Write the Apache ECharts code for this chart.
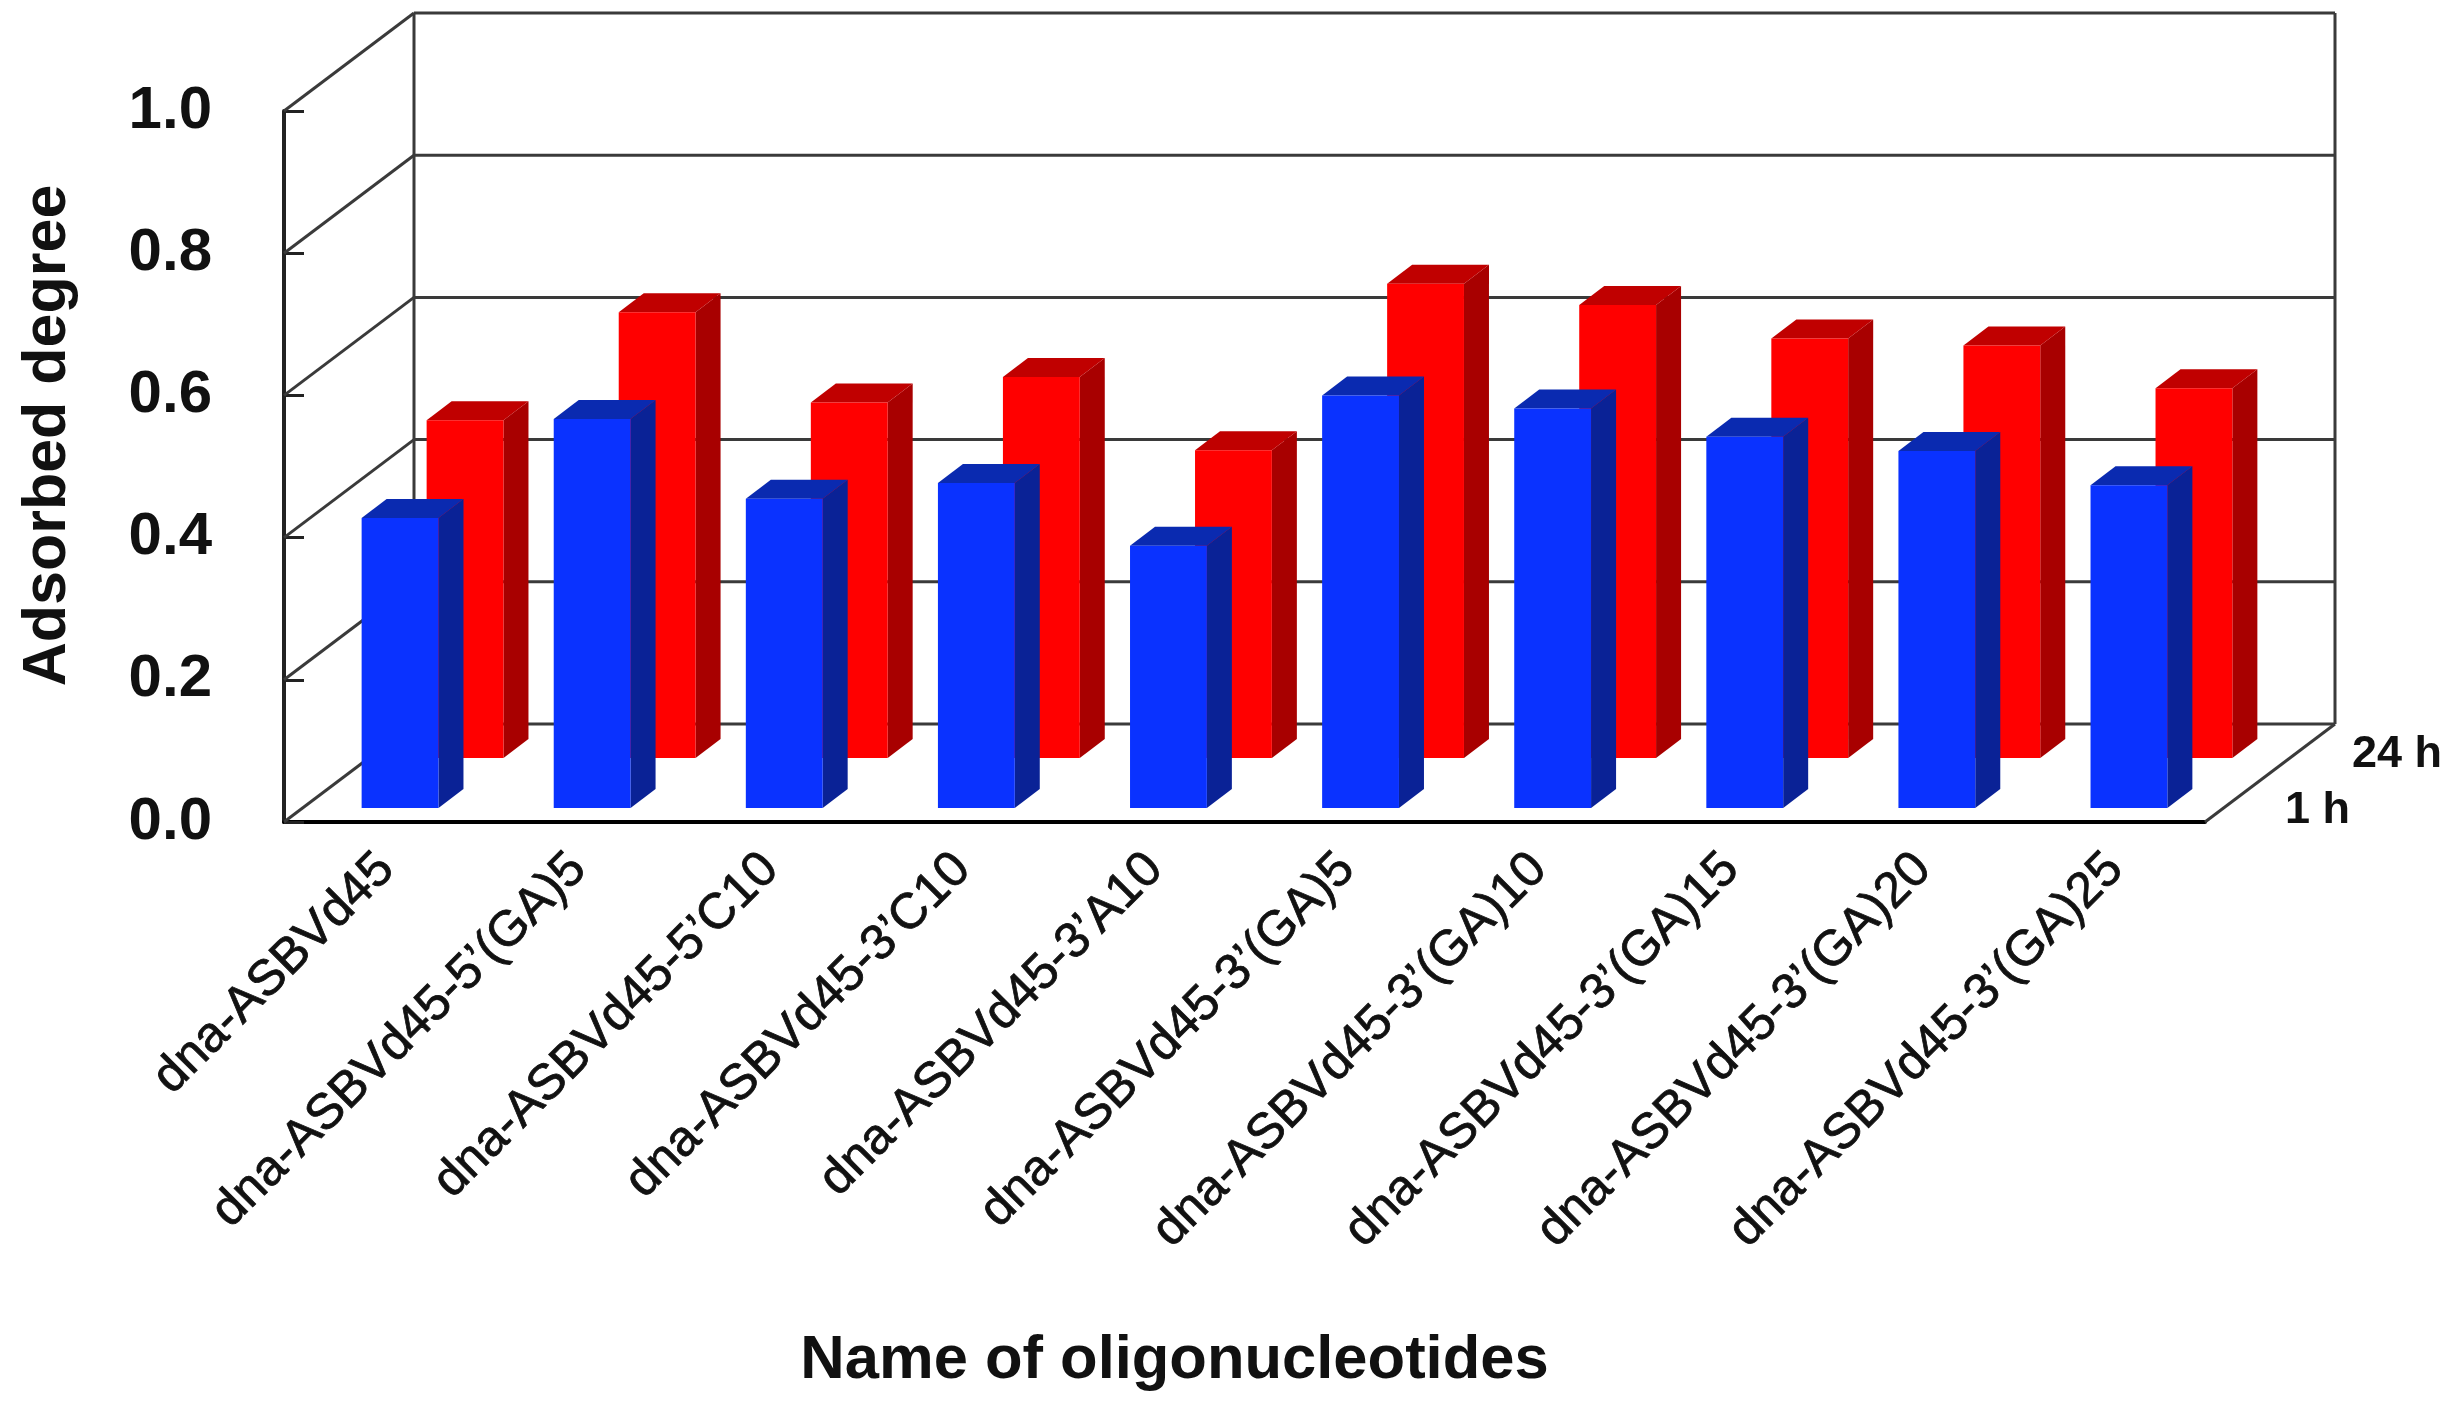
<!DOCTYPE html>
<html><head><meta charset="utf-8">
<style>html,body{margin:0;padding:0;background:#fff}#c{width:2457px;height:1404px}</style>
<script src="https://cdn.jsdelivr.net/npm/echarts@6/dist/echarts.min.js"></script>
</head><body><div id="c"></div>
<script>
const categories = ["dna-ASBVd45","dna-ASBVd45-5’(GA)5","dna-ASBVd45-5’C10","dna-ASBVd45-3’C10","dna-ASBVd45-3’A10","dna-ASBVd45-3’(GA)5","dna-ASBVd45-3’(GA)10","dna-ASBVd45-3’(GA)15","dna-ASBVd45-3’(GA)20","dna-ASBVd45-3’(GA)25"];
const values1h  = [0.408,0.547,0.435,0.457,0.369,0.58,0.562,0.522,0.502,0.454];
const values24h = [0.475,0.627,0.50,0.536,0.433,0.667,0.637,0.59,0.58,0.52];
const yTicks = [0,0.2,0.4,0.6,0.8,1.0];

const FONT = '"Liberation Sans", Arial, sans-serif';
const WALL = [130,-98];       // floor depth in px
const BAR_DEPTH = [25,-19];
const OFF_1H = [20,-14];
const OFF_24H = [85,-64];
const BAR_W = 0.4;

function barSeries(name, vals, off, front, side, top, z){
  return {
    type:'custom', name, z, silent:true, clip:false,
    data: vals.map((v,i)=>[i,v]),
    encode:{x:0,y:1},
    renderItem(params, api){
      const b = api.coord([api.value(0),0]);
      const t = api.coord([api.value(0),api.value(1)]);
      const w = api.size([1,0])[0]*BAR_W;
      const x0 = b[0]-w/2+off[0], x1 = b[0]+w/2+off[0];
      const yb = b[1]+off[1], yt = t[1]+off[1];
      const dx = BAR_DEPTH[0], dy = BAR_DEPTH[1];
      return {type:'group',children:[
        {type:'polygon',shape:{points:[[x1,yb],[x1+dx,yb+dy],[x1+dx,yt+dy],[x1,yt]]},style:{fill:side}},
        {type:'polygon',shape:{points:[[x0,yt],[x1,yt],[x1+dx,yt+dy],[x0+dx,yt+dy]]},style:{fill:top}},
        {type:'rect',shape:{x:x0,y:yt,width:x1-x0,height:yb-yt},style:{fill:front}}
      ]};
    }
  };
}

const lineStyle = {stroke:'#3a3a3a',lineWidth:3};
const frameSeries = {
  type:'custom', name:'frame', z:1, silent:true, clip:false,
  data: yTicks.map(v=>[0,v]),
  encode:{x:0,y:1},
  renderItem(params, api){
    const cs = params.coordSys;
    const y = api.coord([0,api.value(1)])[1];
    const xl = cs.x, xr = cs.x+cs.width;
    const dx = WALL[0], dy = WALL[1];
    const kids = [
      {type:'line',shape:{x1:xl,y1:y,x2:xl+dx,y2:y+dy},style:lineStyle},
      {type:'line',shape:{x1:xl+dx,y1:y+dy,x2:xr+dx,y2:y+dy},style:lineStyle}
    ];
    if(api.value(1)===0){
      const yTop = cs.y+dy;
      kids.push(
        {type:'line',shape:{x1:xl+dx,y1:y+dy,x2:xl+dx,y2:yTop},style:lineStyle},
        {type:'line',shape:{x1:xr+dx,y1:y+dy,x2:xr+dx,y2:yTop},style:lineStyle},
        {type:'line',shape:{x1:xr,y1:y,x2:xr+dx,y2:y+dy},style:lineStyle}
      );
    }
    return {type:'group',children:kids};
  }
};

const chart = echarts.init(document.getElementById('c'),null,{renderer:'canvas'});
chart.setOption({
  animation:false,
  backgroundColor:'#fff',
  grid:{left:284,right:252,top:111,bottom:582,containLabel:false,outerBoundsMode:'none'},
  xAxis:{
    type:'category',data:categories,
    axisLine:{lineStyle:{color:'#000',width:4}},
    axisTick:{show:false},
    splitLine:{show:false},
    axisLabel:{interval:0,rotate:45,margin:46,padding:[0,-9,0,0],fontFamily:FONT,fontSize:50,color:'#111',textBorderColor:'#111',textBorderWidth:0.8},
    name:'Name of oligonucleotides',nameLocation:'middle',nameGap:508,
    nameTextStyle:{fontFamily:FONT,fontWeight:'bold',fontSize:61.5,color:'#111',padding:[0,140,0,0]}
  },
  yAxis:{
    type:'value',min:0,max:1,interval:0.2,
    axisLine:{show:true,lineStyle:{color:'#222',width:4}},
    axisTick:{show:true,inside:true,length:20,lineStyle:{color:'#222',width:3}},
    splitLine:{show:false},
    axisLabel:{margin:72,fontFamily:FONT,fontWeight:'bold',fontSize:60,color:'#111',formatter:v=>v.toFixed(1)},
    name:'Adsorbed degree',nameLocation:'middle',nameGap:205,nameRotate:90,
    nameTextStyle:{fontFamily:FONT,fontWeight:'bold',fontSize:61,color:'#111',padding:[0,0,0,62]}
  },
  graphic:[
    {type:'text',left:2285,top:788,z:20,style:{text:'1 h',fontFamily:FONT,fontWeight:'bold',fontSize:45,fill:'#111'}},
    {type:'text',left:2352,top:732,z:20,style:{text:'24 h',fontFamily:FONT,fontWeight:'bold',fontSize:45,fill:'#111'}}
  ],
  series:[
    frameSeries,
    barSeries('24 h',values24h,OFF_24H,'#ff0000','#a80000','#c00000',3),
    barSeries('1 h',values1h,OFF_1H,'#0a32ff','#0a2296','#0a2ab0',4)
  ]
});
</script></body></html>
